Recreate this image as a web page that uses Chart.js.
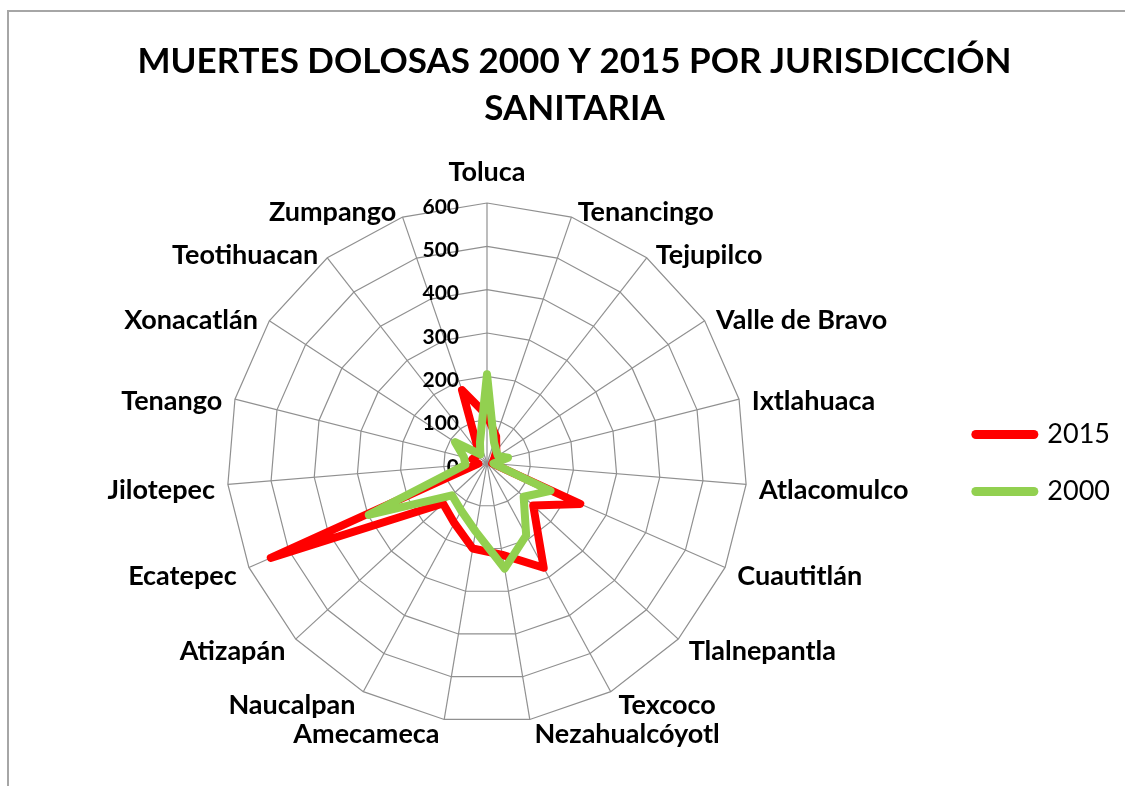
<!DOCTYPE html>
<html>
<head>
<meta charset="utf-8">
<script src="https://cdn.jsdelivr.net/npm/chart.js@4.4.1/dist/chart.umd.min.js"></script>
<style>
  html, body { margin: 0; padding: 0; background: #fff; overflow: hidden; }
  #frame {
    position: absolute; left: 7px; top: 10px;
    width: 1200px; height: 900px;
    border-left: 2px solid #a6a6a6; border-top: 2px solid #a6a6a6;
  }
  #chart { display: block; }
</style>
</head>
<body>
<div id="frame"><canvas id="chart" width="1127" height="790"></canvas></div>
<script>
// jurisdicciones, en el orden del grafico (desde arriba, sentido horario)
const jurisdicciones = [
  'Toluca', 'Tenancingo', 'Tejupilco', 'Valle de Bravo', 'Ixtlahuaca',
  'Atlacomulco', 'Cuautitlán', 'Tlalnepantla', 'Texcoco', 'Nezahualcóyotl',
  'Amecameca', 'Naucalpan', 'Atizapán', 'Ecatepec', 'Jilotepec',
  'Tenango', 'Xonacatlán', 'Teotihuacan', 'Zumpango'
];
const muertes2015 = [110, 65, 35, 20, 15, 12, 235, 145, 275, 215, 200, 158, 138, 545, 20, 35, 30, 30, 178];
const muertes2000 = [205, 50, 35, 30, 50, 15, 160, 115, 190, 247, 160, 125, 110, 298, 50, 55, 88, 25, 50];
const tickValues = [0, 100, 200, 300, 400, 500, 600];

const fontFamily = 'Lato, "Open Sans", sans-serif';

// etiquetas del eje (a la izquierda del eje vertical) y nombres de jurisdiccion
// centrados en su radio, como los pone Excel
const radarLabels = {
  id: 'radarLabels',
  beforeDatasetsDraw(chart) {
    const scale = chart.scales.r;
    const ctx = chart.ctx;
    ctx.save();
    ctx.fillStyle = '#000';

    ctx.font = 'bold 21px ' + fontFamily;
    ctx.textAlign = 'right';
    ctx.textBaseline = 'middle';
    tickValues.forEach(v => {
      const p = scale.getPointPositionForValue(0, v);
      ctx.fillText(String(v), p.x - 28, p.y + 4);
    });

    ctx.font = 'bold 27px ' + fontFamily;
    jurisdicciones.forEach((name, i) => {
      const a = scale.getIndexAngle(i);
      const s = Math.sin(a);
      if (Math.abs(s) < 0.01) {
        const p = scale.getPointPosition(i, scale.drawingArea + 31);
        ctx.textAlign = 'center';
        ctx.fillText(name, p.x, p.y);
      } else {
        const p = scale.getPointPosition(i, scale.drawingArea + 10);
        ctx.textAlign = s > 0 ? 'left' : 'right';
        ctx.fillText(name, p.x + (s > 0 ? 3 : -3), p.y + 5);
      }
    });
    ctx.restore();
  }
};

const ctx = document.getElementById('chart').getContext('2d');
new Chart(ctx, {
  type: 'radar',
  data: {
    labels: jurisdicciones,
    datasets: [
      {
        label: '2015', data: muertes2015,
        borderColor: '#ff0000', backgroundColor: '#ff0000',
        borderWidth: 8, borderJoinStyle: 'round', borderCapStyle: 'round',
        pointRadius: 0, fill: false, order: 1
      },
      {
        label: '2000', data: muertes2000,
        borderColor: '#92d050', backgroundColor: '#92d050',
        borderWidth: 8, borderJoinStyle: 'round', borderCapStyle: 'round',
        pointRadius: 0, fill: false, order: 0
      }
    ]
  },
  options: {
    responsive: false,
    animation: false,
    layout: { padding: { left: 20, right: 16, top: 0, bottom: 79 } },
    plugins: {
      title: {
        display: true,
        text: ['MUERTES DOLOSAS 2000 Y 2015 POR JURISDICCIÓN', 'SANITARIA'],
        color: '#000',
        font: { family: fontFamily, size: 35, weight: 'bold', lineHeight: 1.32 },
        padding: { top: 27, bottom: 71.6 }
      },
      legend: {
        position: 'right',
        fullSize: false,
        labels: {
          usePointStyle: true,
          pointStyle: 'line',
          pointStyleWidth: 58,
          padding: 30,
          color: '#000',
          font: { family: fontFamily, size: 27 },
          sort: (a, b) => a.datasetIndex - b.datasetIndex,
          generateLabels(chart) {
            const items = Chart.defaults.plugins.legend.labels.generateLabels(chart);
            items.forEach(it => { it.lineWidth = 9; it.lineCap = 'round'; });
            return items;
          }
        }
      },
      tooltip: { enabled: false }
    },
    scales: {
      r: {
        min: tickValues[0],
        max: tickValues[tickValues.length - 1],
        ticks: { stepSize: 100, display: false },
        grid: { color: '#909090', lineWidth: 1.2 },
        angleLines: { color: '#909090', lineWidth: 1.2 },
        pointLabels: { display: false }
      }
    }
  },
  plugins: [radarLabels]
});
</script>
</body>
</html>
